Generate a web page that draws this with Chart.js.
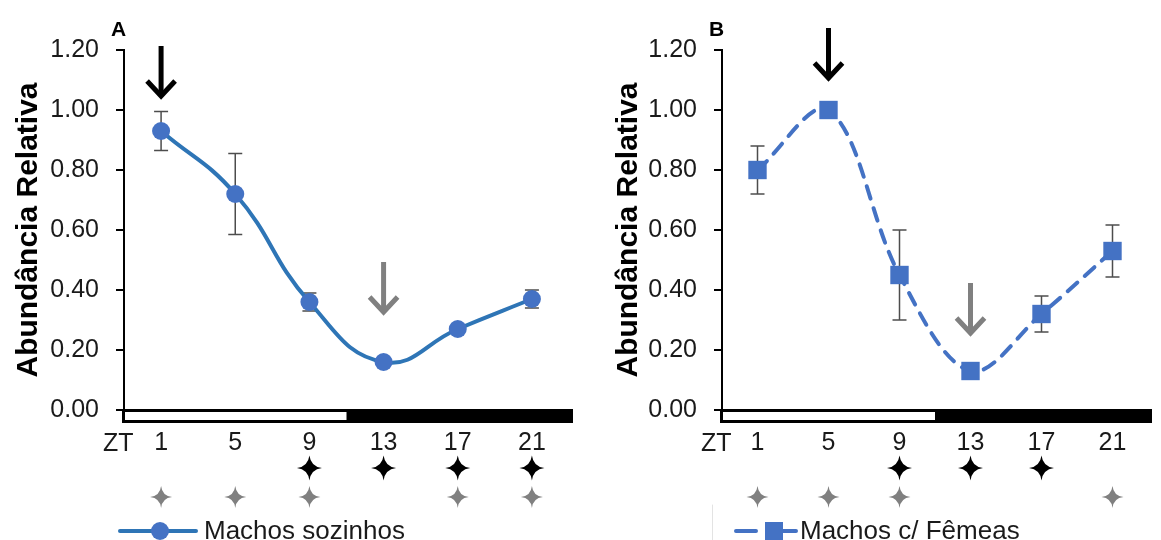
<!DOCTYPE html>
<html>
<head>
<meta charset="utf-8">
<script src="https://cdn.jsdelivr.net/npm/chart.js@4"></script>
<style>
  body { margin: 0; background: #fff; }
  .painel { position: absolute; top: 0; height: 540px; }
  #painelA { left: 0; width: 580px; }
  #painelB { left: 600px; width: 561px; }
</style>
</head>
<body>
<div class="painel" id="painelA"><canvas id="graficoA"></canvas></div>
<div class="painel" id="painelB"><canvas id="graficoB"></canvas></div>
<script>
// Dados (ZT = zeitgeber time)
const zt = [1, 5, 9, 13, 17, 21];
const xTicks = [1, 5, 9, 13, 17, 21];
const yTicks = [0, 0.2, 0.4, 0.6, 0.8, 1.0, 1.2];

const machosSozinhos = [0.93, 0.72, 0.36, 0.16, 0.27, 0.37];
const erroSozinhos = [0.065, 0.135, 0.03, 0.01, 0.01, 0.03];

const machosFemeas = [0.80, 1.00, 0.45, 0.13, 0.32, 0.53];
const erroFemeas = [0.08, 0.0, 0.15, 0.005, 0.06, 0.087];

// Estrelas de significância (pretas e cinzas) por ZT
const sigPretoA = [9, 13, 17, 21];
const sigCinzaA = [1, 5, 9, 17, 21];
const sigPretoB = [9, 13, 17];
const sigCinzaB = [1, 5, 9, 21];

// Setas: ZT e valor onde fica a ponta
const setasA = [{ zt: 1, ponta: 1.04, cor: '#000000' }, { zt: 13, ponta: 0.32, cor: '#808080' }];
const setasB = [{ zt: 5, ponta: 1.10, cor: '#000000' }, { zt: 13, ponta: 0.25, cor: '#808080' }];

const FONTE = "'Liberation Sans', Arial, sans-serif";
const COR_TEXTO = '#1a1a1a';

// desenha uma estrela de 4 pontas
function estrela(ctx, x, y, r, cor, k) {
    ctx.save();
    ctx.fillStyle = cor;
    ctx.beginPath();
    ctx.moveTo(x, y - r);
    ctx.quadraticCurveTo(x + k, y - k, x + r, y);
    ctx.quadraticCurveTo(x + k, y + k, x, y + r);
    ctx.quadraticCurveTo(x - k, y + k, x - r, y);
    ctx.quadraticCurveTo(x - k, y - k, x, y - r);
    ctx.fill();
    ctx.restore();
}

function seta(ctx, x, yPonta, cor) {
    ctx.save();
    ctx.strokeStyle = cor;
    ctx.lineWidth = 5;
    ctx.beginPath();
    ctx.moveTo(x, yPonta - 52);
    ctx.lineTo(x, yPonta - 3);
    ctx.stroke();
    ctx.lineJoin = 'miter';
    ctx.beginPath();
    ctx.moveTo(x - 14, yPonta - 17);
    ctx.lineTo(x, yPonta - 2);
    ctx.lineTo(x + 14, yPonta - 17);
    ctx.stroke();
    ctx.restore();
}

function criarGrafico(id, cfg) {
    const extras = {
        id: 'extras',
        beforeDatasetsDraw(chart) {
            const ctx = chart.ctx;
            const x = chart.scales.x, y = chart.scales.y;
            // barras de erro (atrás dos marcadores)
            ctx.save();
            ctx.strokeStyle = '#4d4d4d';
            ctx.lineWidth = 1.5;
            cfg.valores.forEach((v, i) => {
                const e = cfg.erros[i];
                if (!e) return;
                const px = x.getPixelForValue(zt[i]);
                const y1 = y.getPixelForValue(v + e), y2 = y.getPixelForValue(v - e);
                ctx.beginPath();
                ctx.moveTo(px, y1); ctx.lineTo(px, y2);
                ctx.moveTo(px - 7, y1); ctx.lineTo(px + 7, y1);
                ctx.moveTo(px - 7, y2); ctx.lineTo(px + 7, y2);
                ctx.stroke();
            });
            ctx.restore();
        },
        afterDraw(chart) {
            const ctx = chart.ctx;
            const x = chart.scales.x, y = chart.scales.y;
            const area = chart.chartArea;

            // barra claro/escuro
            const xi = x.getPixelForValue(-1), xm = x.getPixelForValue(11), xf = x.getPixelForValue(23);
            ctx.save();
            ctx.fillStyle = '#000';
            ctx.fillRect(xi - 2, area.bottom - 1, xf - xi + cfg.extraBarra, 14);
            ctx.fillStyle = '#fff';
            ctx.fillRect(xi + 1, area.bottom + 2, xm - xi - 1, 8);
            ctx.restore();

            // "ZT"
            ctx.save();
            ctx.font = '25px ' + FONTE;
            ctx.fillStyle = COR_TEXTO;
            ctx.textBaseline = 'alphabetic';
            ctx.fillText('ZT', xi - 21, area.bottom + 41);
            ctx.restore();

            // estrelas
            cfg.sigPreto.forEach(t => estrela(ctx, x.getPixelForValue(t), area.bottom + 58, 12.5, '#000', 1.4));
            cfg.sigCinza.forEach(t => estrela(ctx, x.getPixelForValue(t), area.bottom + 87, 11, '#808080', 1.1));

            // setas
            cfg.setas.forEach(s => seta(ctx, x.getPixelForValue(s.zt), y.getPixelForValue(s.ponta), s.cor));

            // letra do painel
            ctx.save();
            ctx.font = 'bold 21px ' + FONTE;
            ctx.fillStyle = '#000';
            ctx.textBaseline = 'alphabetic';
            ctx.fillText(cfg.letra, area.left - 13, 36);
            ctx.restore();

            // legenda
            const ds = chart.data.datasets[0];
            const ly = 531;
            ctx.save();
            ctx.strokeStyle = ds.borderColor;
            ctx.lineWidth = 4;
            ctx.lineCap = 'round';
            if (cfg.tracejado) {
                ctx.save();
                ctx.strokeStyle = '#e3e3e3';
                ctx.lineWidth = 1;
                ctx.beginPath();
                ctx.moveTo(112.5, 505); ctx.lineTo(112.5, 540);
                ctx.stroke();
                ctx.restore();
                ctx.beginPath();
                ctx.moveTo(cfg.legX, ly); ctx.lineTo(cfg.legX + 20, ly);
                ctx.moveTo(cfg.legX + 38, ly); ctx.lineTo(cfg.legX + 60, ly);
                ctx.stroke();
                ctx.fillStyle = ds.pointBackgroundColor;
                ctx.fillRect(cfg.legX + 29, ly - 9, 18, 18);
            } else {
                ctx.beginPath();
                ctx.moveTo(cfg.legX, ly); ctx.lineTo(cfg.legX + 76, ly);
                ctx.stroke();
                ctx.fillStyle = ds.pointBackgroundColor;
                ctx.beginPath();
                ctx.arc(cfg.legX + 40, ly, 9, 0, Math.PI * 2);
                ctx.fill();
            }
            ctx.font = '26px ' + FONTE;
            ctx.fillStyle = COR_TEXTO;
            ctx.textBaseline = 'alphabetic';
            ctx.fillText(ds.label, cfg.legTexto, ly + 8);
            ctx.restore();
        }
    };

    return new Chart(document.getElementById(id), {
        type: 'line',
        data: {
            datasets: [{
                label: cfg.rotulo,
                data: zt.map((t, i) => ({ x: t, y: cfg.valores[i] })),
                borderColor: cfg.corLinha,
                borderWidth: 4,
                borderDash: cfg.tracejado ? [13, 10] : [],
                borderCapStyle: 'round',
                tension: cfg.tensao,
                pointStyle: cfg.tracejado ? 'rect' : 'circle',
                pointRadius: cfg.tracejado ? 13 : 9,
                pointBackgroundColor: '#4472C4',
                pointBorderWidth: 0,
                fill: false
            }]
        },
        options: {
            responsive: true,
            maintainAspectRatio: false,
            animation: false,
            layout: { padding: { left: 0, right: cfg.padDir, top: 50, bottom: 70 } },
            plugins: { legend: { display: false }, tooltip: { enabled: false } },
            scales: {
                x: {
                    type: 'linear',
                    min: -1,
                    max: 23,
                    afterBuildTicks: s => { s.ticks = xTicks.map(v => ({ value: v })); },
                    afterFit: s => { s.height = 60; },
                    grid: { display: false },
                    border: { display: true, color: '#000', width: 2 },
                    ticks: { color: COR_TEXTO, padding: 10, font: { family: FONTE, size: 25 } }
                },
                y: {
                    min: 0,
                    max: 1.2,
                    afterBuildTicks: s => { s.ticks = yTicks.map(v => ({ value: v })); },
                    afterFit: s => { s.width = cfg.larguraY; },
                    grid: { drawOnChartArea: false, drawTicks: true, tickLength: 8, color: '#000', lineWidth: 2 },
                    border: { display: true, color: '#000', width: 2 },
                    ticks: {
                        color: COR_TEXTO, padding: 17,
                        font: { family: FONTE, size: 25 },
                        callback: v => v.toFixed(2)
                    },
                    title: {
                        display: true,
                        text: 'Abundância Relativa',
                        color: '#000',
                        padding: { top: 11, bottom: 0 },
                        font: { family: FONTE, size: 30, weight: 'bold' }
                    }
                }
            }
        },
        plugins: [extras]
    });
}

criarGrafico('graficoA', {
    letra: 'A', rotulo: 'Machos sozinhos', valores: machosSozinhos, erros: erroSozinhos,
    corLinha: '#2E75B6', tracejado: false, tensao: 0.45, sigPreto: sigPretoA, sigCinza: sigCinzaA, setas: setasA,
    larguraY: 124, padDir: 11, extraBarra: 6, legX: 120, legTexto: 204
});
criarGrafico('graficoB', {
    letra: 'B', rotulo: 'Machos c/ Fêmeas', valores: machosFemeas, erros: erroFemeas,
    corLinha: '#4472C4', tracejado: true, tensao: 0.35, sigPreto: sigPretoB, sigCinza: sigCinzaB, setas: setasB,
    larguraY: 122, padDir: 0, extraBarra: 6, legX: 136, legTexto: 200
});
</script>
</body>
</html>
